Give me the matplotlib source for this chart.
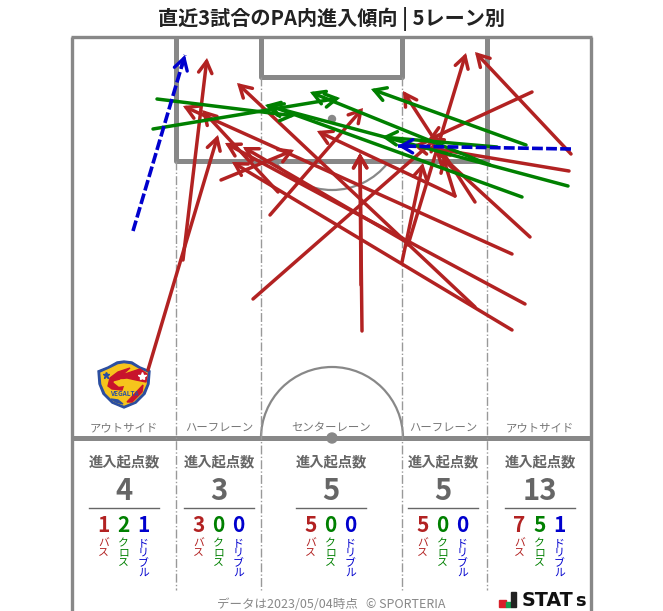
import numpy as np
import matplotlib
matplotlib.use('Agg')
import matplotlib.pyplot as plt
from matplotlib.patches import FancyArrowPatch, Arc, Circle, Rectangle, Polygon

plt.rcParams['font.family'] = ['Noto Sans CJK JP', 'DejaVu Sans']

# entries (start x, start y, end x, end y), image pixels
pass_x0 = [148, 183, 221, 278, 270, 253, 362, 361, 402, 408, 475, 455, 455, 475, 512, 525, 512, 530, 532, 569, 571, 408]
pass_y0 = [370, 260, 180, 192, 215, 299, 331, 285, 262, 245, 307, 196, 196, 202, 254, 304, 330, 237, 92, 171, 154, 243]
pass_x1 = [218, 207, 294, 202, 363, 438, 360, 360, 423, 466, 237, 317, 443, 403, 183, 225, 232, 435, 428, 413, 475, 243]
pass_y1 = [135, 58, 150, 110, 108, 137, 153, 153, 163, 53, 83, 131, 157, 91, 106, 143, 162, 150, 140, 145, 52, 147]

cross_x0 = [157, 153, 526, 490, 568, 522, 497]
cross_y0 = [99, 129, 145, 165, 186, 197, 147]
cross_x1 = [295, 340, 371, 310, 265, 268, 382]
cross_y1 = [116, 98, 89, 92, 105, 105, 137]

dribble_x0 = [133, 571]
dribble_y0 = [231, 149]
dribble_x1 = [185, 398]
dribble_y1 = [55, 146]

lane_names = ['アウトサイド', 'ハーフレーン', 'センターレーン', 'ハーフレーン', 'アウトサイド']
lane_x = [124, 219, 331, 443, 540]
lane_total = [4, 3, 5, 5, 13]
lane_pass = [1, 3, 5, 5, 7]
lane_cross = [2, 0, 0, 0, 5]
lane_dribble = [1, 0, 0, 0, 1]

RED = '#b22222'
GREEN = '#008000'
BLUE = '#0000cd'
LINE = '#888888'
TEXT = '#666666'


def arrow(ax, x0, y0, x1, y1, color, lw, z):
    ax.add_patch(FancyArrowPatch((x0, y0), (x1, y1), arrowstyle='->,head_length=0.55,head_width=0.32',
                                 mutation_scale=15, color=color, lw=lw, shrinkA=0, shrinkB=0,
                                 capstyle='round', joinstyle='miter', zorder=z))


def draw_pitch(ax):
    kw = dict(color=LINE, solid_capstyle='butt', zorder=1)
    ax.plot([72, 72], [37, 611], lw=2.4, **kw)
    ax.plot([591, 591], [37, 611], lw=2.4, **kw)
    ax.plot([71, 592], [37, 37], lw=2.4, **kw)
    ax.plot([71, 592], [438, 438], lw=3.6, **kw)
    # penalty area and goal area
    ax.plot([176, 176, 487, 487], [37, 161, 161, 37], lw=3.6, **kw)
    ax.plot([261, 261, 402, 402], [37, 77, 77, 37], lw=3.6, **kw)
    ax.add_patch(Circle((332, 119), 3.5, color=LINE, zorder=1))
    ax.add_patch(Circle((332, 438), 5, color=LINE, zorder=1))
    ax.add_patch(Arc((332, 438), 142, 142, theta1=180, theta2=360, color=LINE, lw=1.6, zorder=1))
    ax.add_patch(Arc((332, 119), 142, 142, theta1=38, theta2=142, color=LINE, lw=1.6, zorder=1))
    # lane separators
    for x, top in zip([176, 261, 402, 487], [161, 77, 77, 161]):
        ax.plot([x, x], [top, 590], color='#999999', lw=1, ls='-.', zorder=1)


def draw_logo(ax):
    shield = [(98, 371), (108, 367), (117, 362), (124, 361), (132, 362), (140, 367), (150, 371), (149, 384),
              (145, 394), (136, 403), (124, 408), (112, 403), (103, 394), (99, 384)]
    inner = [(101, 373), (110, 369), (118, 365), (124, 364), (131, 365), (138, 369), (147, 373), (146, 384),
             (142, 393), (134, 401), (124, 405), (114, 401), (106, 393), (102, 384)]
    red = '#c8142c'
    navy = '#2b4ea0'
    ax.add_patch(Polygon(shield, closed=True, color=navy, zorder=2))
    ax.add_patch(Polygon(inner, closed=True, color='#f6c41c', zorder=2))
    # flame and head
    ax.add_patch(Polygon([(108, 386), (110, 378), (118, 372), (130, 368), (122, 375), (140, 369), (147, 374), (146, 382),
                          (136, 380), (127, 378), (118, 379), (124, 384), (122, 390), (112, 389)],
                         closed=True, color=red, zorder=2))
    ax.add_patch(Polygon([(114, 382), (122, 380), (126, 385), (119, 386)], closed=True, color='#f6c41c', zorder=2))
    ax.add_patch(Polygon([(127, 402), (143, 385), (142, 392), (132, 402)], closed=True, color=red, zorder=2))
    ax.add_patch(Polygon([(111, 399), (118, 400), (123, 404), (116, 402)], closed=True, color=navy, zorder=2))
    ax.plot([106], [375], marker='*', ms=5, color=navy, zorder=3)
    ax.plot([142], [376], marker='*', ms=6, color='white', zorder=3)
    ax.text(124, 394, 'VEGALTA', fontsize=4.6, fontweight='bold', color=navy, ha='center', va='center', zorder=3)


fig = plt.figure(figsize=(6.63, 6.11), dpi=100, facecolor='white')
ax = fig.add_axes([0, 0, 1, 1])
ax.set_xlim(0, 663)
ax.set_ylim(611, 0)
ax.axis('off')

draw_pitch(ax)
draw_logo(ax)

for x0, y0, x1, y1 in zip(pass_x0, pass_y0, pass_x1, pass_y1):
    arrow(ax, x0, y0, x1, y1, RED, 2.5, 3)
for x0, y0, x1, y1 in zip(cross_x0, cross_y0, cross_x1, cross_y1):
    arrow(ax, x0, y0, x1, y1, GREEN, 2.5, 4)
for x0, y0, x1, y1 in zip(dribble_x0, dribble_y0, dribble_x1, dribble_y1):
    ax.plot([x0, x1], [y0, y1], color=BLUE, lw=2.6, ls=(0, (3, 0.9)), zorder=5)
    arrow(ax, x0 + (x1 - x0) * 0.93, y0 + (y1 - y0) * 0.93, x1, y1, BLUE, 2.4, 5)

ax.text(331, 19, '直近3試合のPA内進入傾向 | 5レーン別', fontsize=14.5, fontweight='bold', color='#222222', ha='center', va='center')

for i, x in enumerate(lane_x):
    ax.text(x, 428, lane_names[i], fontsize=8.2, color='#777777', ha='center', va='center')
    ax.text(x, 462, '進入起点数', fontsize=10.3, fontweight='bold', color=TEXT, ha='center', va='center')
    ax.text(x, 491, str(lane_total[i]), fontsize=21, fontweight='bold', color=TEXT, ha='center', va='center')
    ax.plot([x - 35, x + 35], [508, 508], color=TEXT, lw=1, zorder=1)
    groups = [(lane_pass[i], 'バス', RED), (lane_cross[i], 'クロス', GREEN), (lane_dribble[i], 'ドリブル', BLUE)]
    for k, (val, name, col) in enumerate(groups):
        xk = x + (k - 1) * 20 - 0.5
        ax.text(xk, 526, str(val), fontsize=15, fontweight='bold', color=col, ha='center', va='center')
        # labels are stacked one character per row
        for j, ch in enumerate(name):
            ax.text(xk, 543 + j * 10, ch, fontsize=7.8, color=col, ha='center', va='center')

ax.text(331, 604, 'データは2023/05/04時点   © SPORTERIA', fontsize=9, color='#888888', ha='center', va='center')

# STATs mark
ax.add_patch(Rectangle((499, 600), 7, 7, color='#d8202a', zorder=2))
ax.add_patch(Rectangle((506, 602), 4.5, 5, color='#12a050', zorder=2))
ax.add_patch(Rectangle((510.5, 592), 5, 15, color='#222222', zorder=2))
ax.text(522, 600, 'STAT', fontsize=13.8, fontweight='bold', family=['DejaVu Sans'], color='#111111', ha='left', va='center')
ax.text(575, 601.5, 's', fontsize=13, fontweight='bold', family=['DejaVu Sans'], color='#111111', ha='left', va='center')

fig.savefig('out.png', dpi=100)
